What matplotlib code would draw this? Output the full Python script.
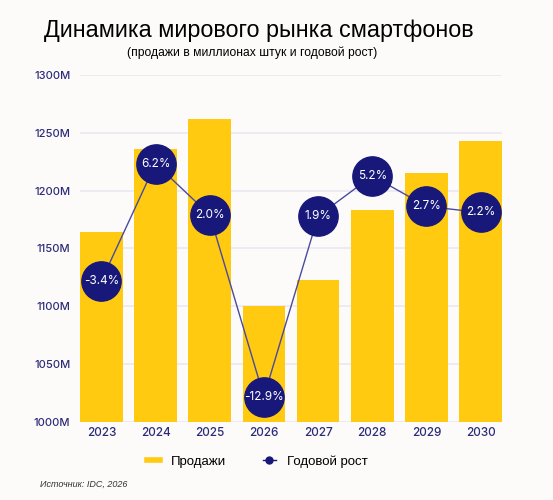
import numpy as np
import matplotlib.pyplot as plt
from matplotlib.lines import Line2D

# данные
years = ['2023', '2024', '2025', '2026', '2027', '2028', '2029', '2030']
sales = [1164, 1236, 1262, 1100, 1123, 1183, 1215, 1243]     # млн штук
growth = [-3.4, 6.2, 2.0, -12.9, 1.9, 5.2, 2.7, 2.2]           # % г/г
yticks = [1000, 1050, 1100, 1150, 1200, 1250, 1300]

BAR = '#FFCA10'
NAVY = '#18187A'
LINE = '#4A4A9E'
TICK = '#2B2B7A'
BG = '#FDFBFA'

fig = plt.figure(figsize=(5.53, 5.0), dpi=100, facecolor=BG)
ax = fig.add_axes([80/553, 1 - 421.7/500, 422/553, 346.7/500], facecolor=BG)

x = np.arange(len(years))
ax.bar(x, [s - 1000 for s in sales], bottom=1000, width=0.79, color=BAR, zorder=2)
ax.set_xlim(-0.395, 7.395)
ax.set_ylim(1000, 1300)
ax.set_yticks(yticks)
ax.set_yticklabels([f'{t}M' for t in yticks])
ax.set_xticks(x)
ax.set_xticklabels(years)
ax.grid(axis='y', color='#E9E7F2', linewidth=1.2, zorder=0)
ax.tick_params(length=0, labelcolor=TICK)
ax.tick_params(axis='y', pad=7, labelsize=8)
ax.tick_params(axis='x', pad=4, labelsize=8.5)
for lab in ax.get_xticklabels() + ax.get_yticklabels():
    lab.set_family(['Inter', 'DejaVu Sans'])
    lab.set_fontweight('medium')
for sp in ax.spines.values():
    sp.set_visible(False)

# рост на второй (скрытой) оси
ax2 = ax.twinx()
ax2.set_ylim(-14.95, 13.47)
ax2.axis('off')
ax2.plot(x, growth, color=LINE, linewidth=1.0, zorder=3)
ax2.scatter(x, growth, s=800, color=NAVY, zorder=4)
for xi, g in zip(x, growth):
    ax2.text(xi, g, f'{g:.1f}%', color='white', ha='center', va='center',
             fontsize=8.5, family=['Inter', 'DejaVu Sans'], zorder=5)

fig.text(0.468, 0.938, 'Динамика мирового рынка смартфонов', ha='center', va='center',
         fontsize=16.8, family='Liberation Sans', color='black')
fig.text(0.456, 0.894, '(продажи в миллионах штук и годовой рост)', ha='center', va='center',
         fontsize=8.7, family='Liberation Sans', color='black')

handles = [Line2D([0], [0], color=BAR, linewidth=4),
           Line2D([0], [0], color=NAVY, linewidth=1, marker='o', markersize=5)]
fig.legend(handles, ['Продажи', 'Годовой рост'], loc='center', bbox_to_anchor=(0.465, 0.077),
           ncol=2, frameon=False, handlelength=1.0, columnspacing=2.8,
           prop={'family': 'Liberation Sans', 'size': 9.5})

fig.text(40/553, 1 - 484/500, 'Источник: IDC, 2026', ha='left', va='center',
         fontsize=6.5, style='italic', family='Liberation Sans', color='#333333')

fig.savefig('out.png', dpi=100, facecolor=BG)
